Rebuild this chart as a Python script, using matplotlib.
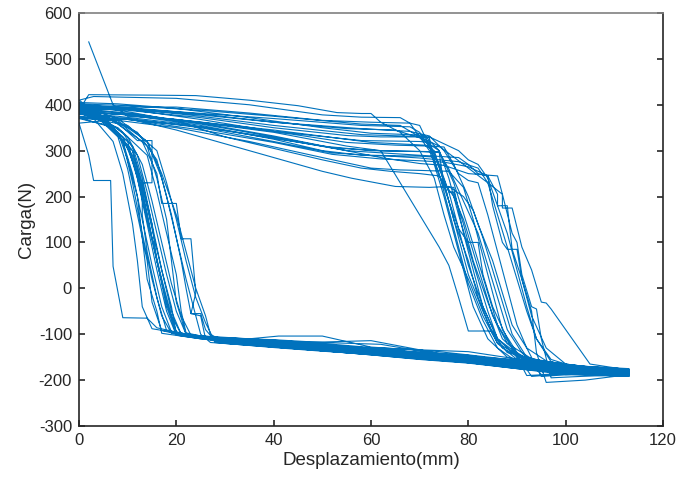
import matplotlib
matplotlib.use("Agg")
import matplotlib.pyplot as plt

plt.rcParams['font.family'] = ['Liberation Sans', 'DejaVu Sans']
plt.rcParams['axes.unicode_minus'] = False

# ciclos de carga: (desplazamiento mm, carga N)
ciclo_01 = [(2,537),(7,400),(10,375),(20,368),(40,345),(60,318),(71,312),(73,300),(75,230),(77,150),(80,60),(82,-20),(85,-100),(88,-140),(95,-158),(105,-172),(113,-180),
            (113,-186),(100,-177),(90,-165),(80,-152),(70,-146),(60,-136),(50,-128),(40,-123),(30,-113),(25,-108),(19,-98),(17,-60),(15,20),(13,120),(11,230),(9,320),(5,365),(0,382)]
ciclo_02 = [(0,382),(8,380),(20,368),(40,340),(55,310),(62,300),(72,298),(74,298),(75,220),(77,220),(79,120),(81,40),(83,-40),(86,-110),(90,-148),(100,-166),(113,-178),
            (113,-182),(100,-172),(90,-160),(80,-146),(72,-140),(62,-122),(50,-118),(40,-112),(30,-108),(22,-104),(17,-92),(15,-30),(14,60),(12,160),(10,260),(8,330),(4,370),(0,395)]
ciclo_03 = [(0,395),(10,392),(20,385),(40,370),(58,355),(68,352),(70,340),(73,290),(76,210),(78,130),(80,50),(83,-40),(86,-110),(91,-150),(100,-170),(113,-183),
            (113,-190),(100,-180),(90,-168),(80,-158),(70,-150),(60,-141),(50,-133),(40,-125),(26,-110),(21,-100),(19,-50),(17,40),(15,140),(13,240),(11,310),(6,360),(0,388)]
ciclo_04 = [(0,388),(2,422),(15,421),(24,420),(35,410),(45,398),(53,383),(58,381),(60,381),(62,362),(66,340),(70,300),(73,240),(75,160),(77,90),(80,20),(83,-60),(86,-120),(92,-155),(100,-168),(113,-175),
            (113,-180),(100,-170),(90,-157),(80,-145),(73,-137),(60,-128),(50,-104),(41,-104),(35,-110),(24,-103),(19,-95),(17,-40),(15,50),(13,150),(11,250),(9,320),(4,380),(0,410)]
ciclo_05 = [(0,410),(3,418),(20,414),(35,400),(50,378),(58,373),(66,372),(68,360),(72,300),(75,220),(78,130),(80,100),(82,100),(83,30),(85,-40),(88,-110),(92,-190),(100,-186),(113,-182),
            (113,-188),(100,-182),(90,-172),(80,-160),(70,-152),(60,-143),(50,-136),(40,-127),(28,-115),(26,-90),(25,-55),(23,-55),(22,0),(21,60),(19,160),(17,240),(14,320),(8,370),(0,398)]
ciclo_06 = [(0,398),(10,385),(20,365),(30,330),(40,305),(50,280),(58,262),(64,255),(70,250),(74,245),(77,200),(79,150),(81,80),(83,10),(85,-60),(88,-120),(94,-160),(100,-172),(113,-185),
            (113,-192),(100,-185),(90,-175),(80,-162),(70,-154),(60,-145),(50,-136),(40,-128),(27,-118),(25,-100),(24,-60),(22,20),(20,110),(18,200),(16,280),(12,340),(6,372),(0,380)]
ciclo_07 = [(0,380),(10,370),(20,345),(30,315),(40,285),(50,255),(56,240),(65,222),(72,220),(76,222),(79,200),(81,170),(83,110),(85,40),(87,-30),(89,-100),(92,-150),(98,-175),(105,-180),(113,-188),
            (113,-183),(100,-176),(90,-166),(80,-155),(70,-145),(60,-136),(50,-127),(40,-121),(27,-108),(21,-100),(19,-60),(17,20),(15,110),(13,210),(11,290),(7,350),(0,372)]
ciclo_08 = [(0,372),(10,368),(25,352),(40,328),(55,300),(70,290),(78,285),(80,270),(82,250),(84,245),(86,205),(86,180),(88,180),(89,85),(91,20),(93,-50),(94,-140),(96,-205),(104,-200),(113,-188),
            (113,-190),(100,-178),(90,-170),(80,-160),(70,-149),(60,-140),(50,-131),(40,-123),(25,-110),(20,-102),(18,-50),(16,40),(14,140),(12,240),(10,320),(5,365),(0,402)]
ciclo_09 = [(0,402),(10,398),(25,388),(40,375),(58,358),(66,355),(70,330),(74,310),(79,270),(84,230),(87,205),(87,175),(89,175),(91,90),(93,40),(95,-30),(96,-32),(97,-45),(105,-165),(113,-178),
            (113,-182),(100,-175),(90,-162),(80,-155),(73,-140),(60,-114),(50,-117),(40,-120),(25,-106),(20,-98),(18,-40),(16,60),(14,160),(12,250),(9,330),(4,372),(0,390)]
ciclo_10 = [(0,390),(10,380),(25,358),(40,330),(52,306),(62,300),(66,230),(70,160),(74,90),(76,50),(78,-20),(80,-93),(85,-93),(87,-130),(92,-158),(100,-170),(113,-180),
            (113,-184),(100,-174),(90,-163),(80,-152),(70,-143),(60,-134),(50,-126),(40,-118),(24,-104),(15,-88),(13,-40),(12,60),(11,140),(9,250),(7,320),(3,370),(0,385)]
ciclo_11 = [(0,385),(10,378),(25,362),(40,342),(58,322),(70,320),(72,318),(74,270),(76,190),(78,110),(80,30),(83,-50),(86,-120),(90,-155),(100,-172),(113,-182),
            (113,-186),(100,-176),(90,-166),(80,-155),(70,-146),(60,-137),(50,-129),(40,-120),(22,-100),(16,-86),(14,-65),(9,-64),(7,48),(6.5,235),(3,235),(2,290),(0,360)]
ciclo_12 = [(0,360),(10,370),(25,350),(40,320),(52,295),(60,290),(70,288),(73,286),(74,270),(76,210),(77,210),(79,140),(81,60),(84,-30),(87,-110),(91,-150),(100,-168),(113,-177),
            (113,-181),(100,-171),(90,-158),(80,-150),(70,-140),(60,-131),(50,-122),(40,-115),(23,-103),(18,-92),(16,-20),(14,80),(13,160),(13,230),(15,230),(15,322),(12,322),(8,360),(0,395)]
ciclo_13 = [(0,395),(10,390),(25,378),(40,362),(58,348),(68,342),(72,332),(75,300),(78,250),(80,235),(82,230),(84,160),(86,80),(88,0),(90,-80),(92,-130),(95,-192),(105,-185),(113,-184),
            (113,-189),(100,-183),(90,-170),(80,-160),(70,-152),(60,-142),(50,-134),(40,-127),(28,-118),(26,-75),(24,-20),(22,60),(20,150),(18,230),(16,300),(10,355),(0,375)]
ciclo_14 = [(0,375),(10,368),(25,345),(40,318),(52,292),(62,282),(70,278),(75,275),(80,265),(82,255),(84,245),(85,180),(87,100),(88,85),(90,85),(91,20),(93,-60),(96,-130),(100,-165),(113,-182),
            (113,-176),(100,-168),(90,-156),(80,-148),(70,-139),(60,-130),(50,-123),(40,-117),(24,-104),(20,-95),(18,-30),(16,60),(14,150),(12,240),(10,310),(5,365),(0,400)]
ciclo_15 = [(0,400),(10,394),(25,380),(40,362),(55,348),(65,345),(70,328),(74,300),(76,240),(78,160),(80,90),(82,20),(84,-50),(86,-110),(90,-150),(100,-172),(113,-184),
            (113,-190),(100,-185),(90,-173),(80,-162),(70,-153),(60,-144),(50,-137),(40,-129),(30,-120),(26,-110),(25,-60),(23,-55),(24,-10),(23,108),(21,108),(20,185),(17,185),(16,250),(13,320),(7,365),(0,392)]
ciclo_16 = [(0,392),(10,382),(25,360),(40,332),(55,300),(62,285),(70,272),(75,268),(80,250),(86,245),(87,205),(89,120),(90,100),(91,30),(93,-40),(94,-45),(95,-110),(97,-195),(103,-192),(113,-188),
            (113,-184),(100,-176),(90,-166),(80,-156),(70,-147),(60,-138),(50,-130),(40,-121),(25,-108),(20,-100),(19,-40),(17,40),(15,130),(13,220),(11,300),(6,355),(0,370)]
ciclo_17 = [(0,370),(8,366),(20,350),(35,320),(50,285),(60,262),(66,258),(70,257),(73,256),(76,255),(79,220),(81,150),(83,70),(85,-10),(87,-90),(90,-140),(95,-172),(100,-180),(113,-190),
            (113,-186),(100,-178),(90,-168),(80,-157),(70,-148),(60,-139),(50,-130),(40,-122),(26,-110),(22,-100),(20,-30),(19,60),(18,150),(16,240),(14,310),(9,355),(0,400)]
ciclo_18 = [(0,400),(10,392),(25,375),(40,355),(58,335),(72,330),(78,300),(80,280),(82,270),(84,240),(86,180),(88,120),(90,40),(92,-40),(94,-110),(97,-160),(105,-178),(113,-185),
            (113,-180),(100,-170),(90,-160),(80,-151),(70,-142),(60,-133),(50,-124),(40,-118),(26,-106),(22,-97),(21,-50),(20,30),(18,120),(16,210),(14,290),(8,350),(0,385)]
ciclo_19 = [(0,385),(8,395),(20,395),(35,382),(50,366),(60,362),(68,360),(70,355),(72,310),(74,250),(76,170),(78,90),(80,10),(83,-70),(86,-130),(90,-160),(100,-175),(113,-183),
            (113,-187),(100,-180),(90,-170),(80,-159),(70,-150),(60,-141),(50,-132),(40,-124),(25,-110),(17,-98),(16,-50),(14,20),(13,110),(12,200),(10,280),(8,340),(3,380),(0,393)]
ciclo_20 = [(0,393),(10,388),(25,372),(40,350),(55,333),(62,330),(70,330),(72,328),(73,270),(75,200),(77,120),(79,40),(81,-40),(84,-110),(88,-150),(95,-167),(105,-175),(113,-182),
            (113,-178),(100,-168),(90,-154),(80,-138),(70,-134),(60,-129),(50,-120),(40,-113),(30,-108),(25,-105),(20,-96),(18,-30),(16,60),(15,140),(13,230),(11,300),(6,360),(0,405)]
ciclo_21 = [(0,405),(8,402),(20,392),(35,372),(50,350),(60,338),(68,335),(71,333),(74,300),(77,230),(80,130),(82,60),(84,-10),(86,-80),(89,-130),(93,-192),(100,-186),(113,-186),
            (113,-192),(100,-188),(90,-175),(80,-163),(70,-155),(60,-145),(50,-136),(40,-128),(30,-118),(27,-100),(26,-60),(24,0),(22,80),(20,160),(17,250),(14,320),(8,365),(0,380)]
ciclo_22 = [(0,380),(8,375),(20,360),(35,335),(50,310),(60,300),(70,298),(74,296),(76,260),(79,190),(82,120),(84,50),(86,-20),(88,-90),(91,-140),(95,-188),(104,-184),(113,-188),
            (113,-184),(100,-178),(90,-164),(80,-153),(70,-143),(60,-135),(50,-127),(40,-119),(28,-110),(23,-102),(21,-60),(19,10),(17,100),(15,190),(13,270),(10,330),(5,370),(0,398)]
ciclo_23 = [(0,398),(10,390),(25,368),(40,342),(55,318),(65,312),(72,310),(75,308),(77,270),(80,200),(82,140),(85,60),(87,-10),(89,-80),(92,-130),(97,-165),(105,-176),(113,-181),
            (113,-187),(100,-179),(90,-167),(80,-156),(70,-147),(60,-137),(50,-129),(40,-121),(28,-112),(22,-100),(20,-50),(18,30),(16,120),(14,210),(12,290),(9,340),(4,375),(0,386)]
ciclo_24 = [(0,386),(10,378),(25,355),(40,325),(50,300),(58,290),(64,288),(70,284),(74,280),(78,276),(82,262),(84,230),(86,160),(88,90),(90,20),(92,-50),(94,-110),(97,-155),(103,-175),(113,-183)]

ciclos = [ciclo_01, ciclo_02, ciclo_03, ciclo_04, ciclo_05, ciclo_06, ciclo_07, ciclo_08,
          ciclo_09, ciclo_10, ciclo_11, ciclo_12, ciclo_13, ciclo_14, ciclo_15, ciclo_16,
          ciclo_17, ciclo_18, ciclo_19, ciclo_20, ciclo_21, ciclo_22, ciclo_23, ciclo_24]

x = []
y = []
for c in ciclos:
    for p in c:
        x.append(p[0])
        y.append(p[1])

fig = plt.figure(figsize=(6.81, 4.83), dpi=100)
ax = fig.add_axes([79/681, (483-426)/483, (663-79)/681, (426-13)/483])
ax.plot(x, y, color='#0072BD', linewidth=0.8)
ax.set_xlim(0, 120)
ax.set_ylim(-300, 600)
ax.set_xticks(range(0, 121, 20))
ax.set_yticks(range(-300, 601, 100))
ax.tick_params(direction='in', length=4, width=1.2, labelsize=12, colors='#262626',
               right=True, top=False, pad=5)
for s in ax.spines.values():
    s.set_color('#262626')
    s.set_linewidth(1.2)
ax.spines['top'].set_color('#808080')
ax.set_xlabel('Desplazamiento(mm)', fontsize=13.5, color='#262626', labelpad=3)
ax.set_ylabel('Carga(N)', fontsize=13.5, color='#262626', labelpad=3)
fig.savefig('out.png', dpi=100)
